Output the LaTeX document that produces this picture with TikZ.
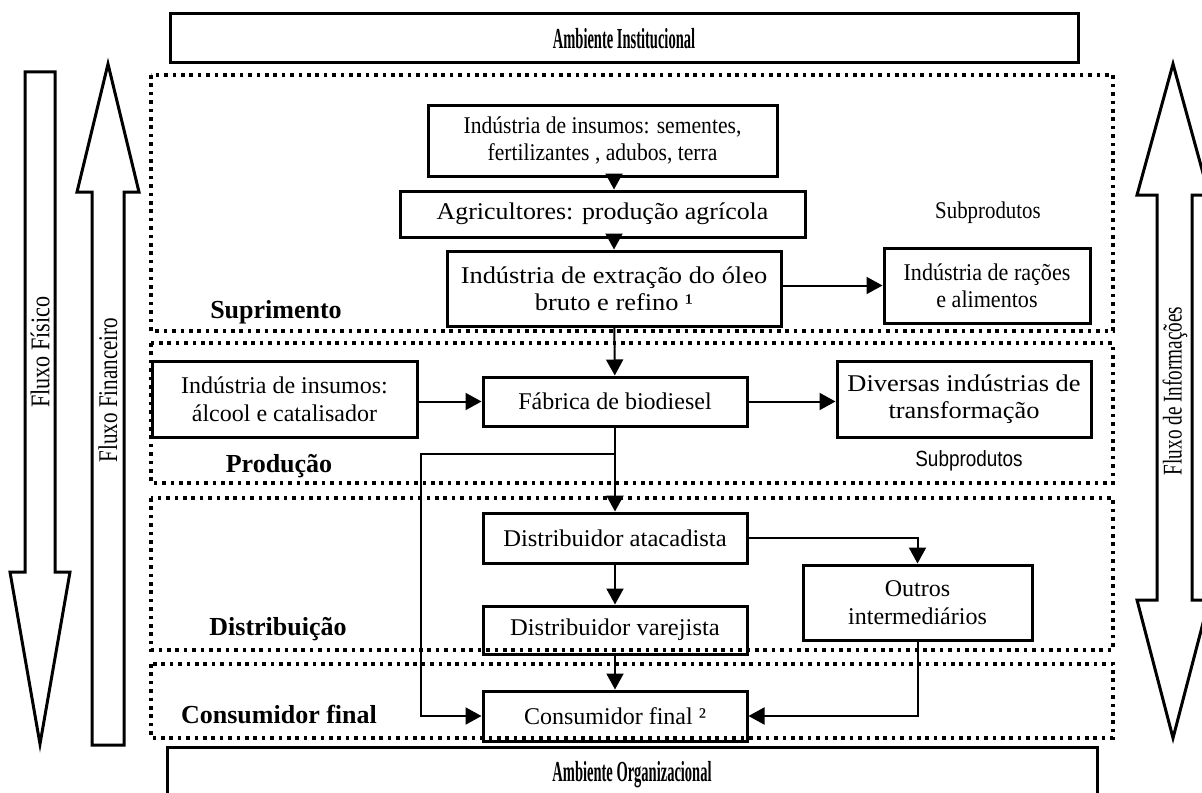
\documentclass[tikz,border=0pt]{standalone}
\usepackage{fontspec}
\usepackage{graphicx}
\setmainfont{Liberation Serif}
\newfontfamily\arialfont{Liberation Sans}
\usetikzlibrary{arrows.meta}

\begin{document}
\begin{tikzpicture}[x=0.5pt, y=-0.5pt,
  box/.style={rectangle, draw, line width=1.5pt, align=center, inner sep=0pt, font=\fontsize{12}{13.8}\selectfont},
  larg/.style={font=\fontsize{12}{13.5}\selectfont\addfontfeature{FakeStretch=#1}},
  zone/.style={line width=1.8pt, dash pattern=on 1.8pt off 2.4pt},
  etapa/.style={anchor=base, font=\fontsize{13}{15}\selectfont\bfseries},
  fluxo/.style={line width=1.5pt},
  seta/.style={line width=1pt, -{Triangle[length=8pt, width=8.5pt]}}]

  \useasboundingbox (0,0) rectangle (1202,792);

  \node[box, minimum width=454pt, minimum height=24.5pt] (inst) at (624,38.5) {\scalebox{0.5}[1]{\fontsize{14.5}{16}\selectfont\bfseries Ambiente Institucional}};
  \node[box, minimum width=465pt, minimum height=28pt] (org) at (632,775) {\scalebox{0.5}[1]{\fontsize{14.5}{16}\selectfont\bfseries Ambiente Organizacional}};

  \draw[zone] (151,75) rectangle (1113,331);
  \draw[zone] (151,343) rectangle (1113,483);
  \draw[zone] (151,498) rectangle (1113,650);
  \draw[zone] (151,664) rectangle (1113,738);

  \node[etapa] (supr) at (276,318) {Suprimento};
  \node[etapa] (prod) at (279,472) {Produção};
  \node[etapa] (dist) at (278,635) {Distribuição};
  \node[etapa] (cons) at (279,723) {Consumidor final};

  \draw[fluxo] (25,72) -- (55,72) -- (55,572) -- (70,572) -- (40,744) -- (10,572) -- (25,572) -- cycle;
  \draw[fluxo] (92,745) -- (124,745) -- (124,192) -- (139,192) -- (108,64) -- (77,192) -- (92,192) -- cycle;
  \draw[fluxo] (1157,195) -- (1137,195) -- (1173,64) -- (1209,195) -- (1192,195) -- (1192,600) -- (1209,600) -- (1173,738) -- (1137,600) -- (1157,600) -- cycle;
  \node[rotate=90, font=\fontsize{13.5}{15}\selectfont] (fisico) at (40,352) {\scalebox{0.82}[1]{Fluxo Físico}};
  \node[rotate=90, font=\fontsize{13.5}{15}\selectfont] (financ) at (108,390) {\scalebox{0.78}[1]{Fluxo Financeiro}};
  \node[rotate=90, font=\fontsize{13.5}{15}\selectfont] (inform) at (1175,391) {\scalebox{0.71}[1]{Fluxo de Informações}};

  \node[box, larg=0.9, minimum width=174.5pt, minimum height=35.5pt] (ins1) at (602.5,140.5) {Indústria de insumos: sementes,\\ fertilizantes , adubos, terra};
  \node[box, larg=1.08, minimum width=202.5pt, minimum height=23pt] (agr) at (602.5,214) {Agricultores: produção agrícola};
  \node[box, larg=1.1, minimum width=167pt, minimum height=37.5pt] (ole) at (614,288.5) {Indústria de extração do óleo\\ bruto e refino ¹};
  \node[box, larg=0.92, minimum width=103pt, minimum height=37.5pt] (rac) at (987,285.5) {Indústria de rações\\ e alimentos};
  \node[larg=0.87] (sub1) at (988,213) {Subprodutos};

  \node[box, minimum width=132.5pt, minimum height=38pt] (ins2) at (284.5,399) {Indústria de insumos:\\ álcool e catalisador};
  \node[box, minimum width=132pt, minimum height=24.5pt] (bio) at (615,401.5) {Fábrica de biodiesel};
  \node[box, larg=1.1, minimum width=127pt, minimum height=38pt] (div) at (964,399) {Diversas indústrias de\\ transformação};
  \node[font=\arialfont\fontsize{11}{12}\selectfont\addfontfeature{FakeStretch=0.86}] (sub2) at (969,461) {Subprodutos};

  \node[box, larg=1.025, minimum width=132pt, minimum height=25pt] (ata) at (615,538) {Distribuidor atacadista};
  \node[box, larg=1.025, minimum width=132pt, minimum height=24pt] (var) at (615,630) {Distribuidor varejista};
  \node[box, minimum width=114.5pt, minimum height=37.5pt] (out) at (917.5,602.5) {Outros\\ intermediários};
  \node[box, minimum width=132pt, minimum height=25pt] (con) at (615,716) {Consumidor final ²};

  \coordinate (split) at (615,454);
  \coordinate (byp) at (421,454);

  \draw[seta] (ins1.south -| ole) -- (agr.north -| ole);
  \draw[seta] (agr.south -| ole) -- (ole);
  \draw[seta] (ole.east |- rac.west) -- (rac.west);
  \draw[seta] (ole) -- (bio);
  \draw[seta] (ins2.east |- bio.west) -- (bio.west);
  \draw[seta] (bio.east) -- (div.west |- bio.east);
  \draw[seta] (bio) -- (ata);
  \draw[seta] (split) -- (byp) |- (con.west);
  \draw[seta] (ata) -- (var);
  \draw[seta] (var) -- (con);
  \draw[seta] (ata.east) -| (out.north);
  \draw[seta] (out.south) |- (con.east);

\end{tikzpicture}
\end{document}
